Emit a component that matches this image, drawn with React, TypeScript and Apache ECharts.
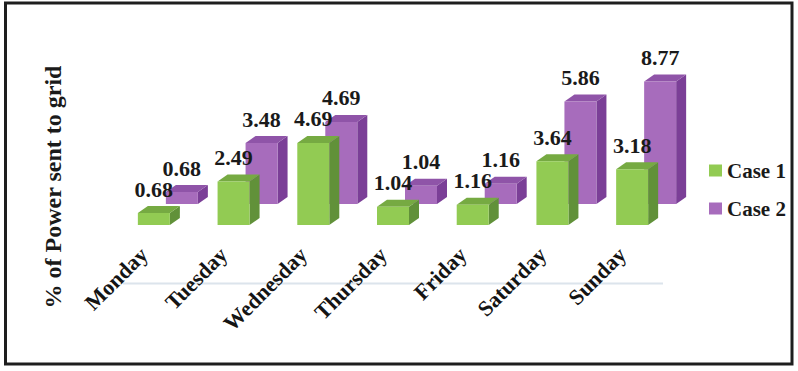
import React, { useEffect, useRef } from "react";
import * as echarts from "echarts";

const days = ["Monday", "Tuesday", "Wednesday", "Thursday", "Friday", "Saturday", "Sunday"];
const case1 = [0.68, 2.49, 4.69, 1.04, 1.16, 3.64, 3.18];
const case2 = [0.68, 3.48, 4.69, 1.04, 1.16, 5.86, 8.77];
const Y_MAX = 7;

const FONT = "Liberation Serif, serif";

type Palette = { front: string; top: string; side: string };
const greenPal: Palette = { front: "#92cb53", top: "#76aa42", side: "#619139" };
const purplePal: Palette = { front: "#a76cbc", top: "#8f54a8", side: "#7b3f97" };

function makeRender(offX: number, offY: number, pal: Palette) {
  return (params: any, api: any) => {
    const idx = api.value(0);
    const raw = api.value(1);
    const v = Math.min(raw, Y_MAX);
    const base = api.coord([idx, 0]);
    const top = api.coord([idx, v]);
    const w = 32;
    const d = 10;
    const e = 7;
    const x0 = base[0] - w / 2 + offX;
    const yb = base[1] + offY;
    const yt = top[1] + offY;
    return {
      type: "group",
      children: [
        {
          type: "polygon",
          shape: { points: [[x0 + w, yt], [x0 + w + d, yt - e], [x0 + w + d, yb - e], [x0 + w, yb]] },
          style: { fill: pal.side },
        },
        {
          type: "polygon",
          shape: { points: [[x0, yt], [x0 + d, yt - e], [x0 + w + d, yt - e], [x0 + w, yt]] },
          style: { fill: pal.top },
        },
        {
          type: "rect",
          shape: { x: x0, y: yt, width: w, height: yb - yt },
          style: { fill: pal.front },
        },
        {
          type: "text",
          z2: 100,
          style: {
            text: raw.toFixed(2),
            x: x0 + w / 2,
            y: yt - 24,
            align: "center",
            verticalAlign: "middle",
            fontFamily: FONT,
            fontWeight: "bold",
            fontSize: 22,
            fill: "#1a1a1a",
          },
        },
      ],
    };
  };
}

export default function App() {
  const ref = useRef<HTMLDivElement>(null);
  useEffect(() => {
    if (!ref.current) return;
    const chart = echarts.init(ref.current, null, { renderer: "svg" });
    chart.setOption({
      animation: false,
      backgroundColor: "#ffffff",
      grid: [
        { left: 114, top: 102.5, width: 558, height: 122.5 },
        { left: 104, top: 102.5, width: 558, height: 122.5 },
      ],
      xAxis: [
        {
          type: "category",
          data: days,
          gridIndex: 0,
          axisLine: { show: false },
          axisTick: { show: false },
          axisLabel: { show: false },
        },
        {
          type: "category",
          data: days,
          gridIndex: 1,
          axisLine: { show: false },
          axisTick: { show: false },
          axisLabel: {
            rotate: 45,
            margin: 26,
            interval: 0,
            fontFamily: FONT,
            fontWeight: "bold",
            fontSize: 22,
            color: "#141414",
          },
        },
      ],
      yAxis: [
        { type: "value", min: 0, max: Y_MAX, gridIndex: 0, show: false },
        { type: "value", min: 0, max: Y_MAX, gridIndex: 1, show: false },
      ],
      legend: {
        orient: "vertical",
        left: 704,
        top: 155,
        itemWidth: 13,
        itemHeight: 12,
        itemGap: 17,
        icon: "rect",
        data: ["Case 1", "Case 2"],
        textStyle: { fontFamily: FONT, fontWeight: "bold", fontSize: 21, color: "#1a1a1a" },
      },
      graphic: [
        {
          type: "rect",
          z: -1,
          shape: { x: 5.5, y: 3, width: 786.5, height: 361 },
          style: { fill: "none", stroke: "#1e1e1e", lineWidth: 3 },
        },
        {
          type: "line",
          z: -1,
          shape: { x1: 123, y1: 283.5, x2: 663, y2: 283.5 },
          style: { stroke: "#dce4ec", lineWidth: 2 },
        },
        {
          type: "text",
          x: 53,
          y: 187,
          rotation: Math.PI / 2,
          style: {
            text: "% of Power sent to grid",
            align: "center",
            verticalAlign: "middle",
            fontFamily: FONT,
            fontWeight: "bold",
            fontSize: 24,
            fill: "#1a1a1a",
          },
        },
      ],
      series: [
        {
          name: "Case 2",
          type: "custom",
          xAxisIndex: 0,
          yAxisIndex: 0,
          z: 2,
          itemStyle: { color: purplePal.front },
          renderItem: makeRender(28, -21, purplePal),
          data: case2.map((v, i) => [i, v]),
        },
        {
          name: "Case 1",
          type: "custom",
          xAxisIndex: 0,
          yAxisIndex: 0,
          z: 3,
          itemStyle: { color: greenPal.front },
          renderItem: makeRender(0, 0, greenPal),
          data: case1.map((v, i) => [i, v]),
        },
      ],
    });
    return () => chart.dispose();
  }, []);
  return (
    <div
      ref={ref}
      style={{ position: "fixed", left: 0, top: 0, width: 798, height: 371 }}
    />
  );
}
